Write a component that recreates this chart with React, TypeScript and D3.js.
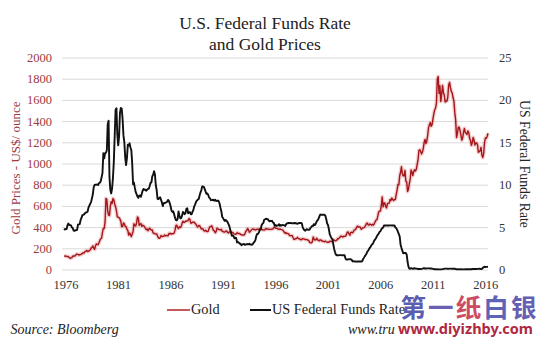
import React from "react";
import * as d3 from "d3";

const startYear = 1976;
// Monthly gold price, US$/ounce, Jan 1976 – Jun 2016
const goldPrices: number[] = [
  131, 131, 132, 128, 128, 125, 118, 110, 114, 117, 130, 133,
  132, 136, 148, 149, 147, 141, 144, 145, 149, 158, 162, 161,
  173, 178, 184, 175, 177, 183, 189, 206, 212, 227, 206, 194,
  227, 246, 242, 239, 257, 279, 295, 301, 355, 392, 392, 456,
  675, 665, 554, 517, 514, 600, 644, 627, 674, 661, 623, 595,
  557, 500, 499, 495, 480, 461, 409, 410, 444, 437, 413, 410,
  384, 374, 330, 350, 334, 315, 339, 364, 436, 422, 415, 444,
  500, 491, 421, 432, 438, 413, 423, 416, 412, 393, 382, 388,
  370, 386, 394, 381, 377, 378, 348, 348, 341, 340, 341, 320,
  303, 299, 304, 325, 316, 317, 317, 330, 323, 326, 325, 322,
  345, 339, 346, 340, 342, 343, 348, 376, 418, 423, 398, 391,
  408, 401, 409, 438, 460, 450, 450, 461, 460, 465, 467, 486,
  477, 442, 443, 452, 451, 452, 437, 432, 413, 406, 420, 419,
  404, 388, 391, 385, 371, 367, 375, 365, 362, 367, 394, 409,
  410, 417, 393, 374, 369, 352, 362, 395, 389, 381, 381, 378,
  384, 364, 363, 358, 357, 367, 368, 356, 349, 359, 360, 361,
  354, 354, 345, 338, 337, 341, 353, 343, 345, 344, 335, 334,
  329, 330, 330, 342, 367, 372, 392, 379, 355, 364, 374, 383,
  387, 382, 384, 378, 381, 386, 385, 381, 391, 389, 384, 379,
  379, 377, 382, 391, 385, 387, 386, 383, 383, 383, 386, 387,
  400, 405, 396, 393, 392, 385, 383, 387, 383, 381, 378, 369,
  355, 347, 352, 344, 344, 341, 324, 324, 323, 325, 306, 289,
  289, 297, 296, 308, 299, 292, 293, 284, 289, 296, 294, 291,
  287, 288, 286, 282, 277, 261, 256, 257, 265, 311, 293, 283,
  284, 300, 286, 280, 275, 285, 282, 274, 273, 270, 266, 272,
  266, 262, 263, 261, 272, 270, 268, 273, 283, 283, 276, 276,
  282, 296, 294, 303, 314, 321, 314, 310, 319, 317, 319, 333,
  357, 359, 341, 328, 355, 356, 351, 360, 379, 379, 389, 407,
  414, 405, 406, 404, 384, 392, 398, 400, 406, 420, 439, 442,
  424, 423, 434, 429, 422, 431, 424, 438, 457, 470, 476, 510,
  549, 555, 557, 610, 690, 596, 633, 632, 598, 585, 627, 629,
  631, 665, 655, 679, 667, 655, 665, 665, 712, 754, 806, 803,
  889, 922, 975, 909, 888, 889, 940, 839, 830, 740, 760, 816,
  858, 943, 924, 890, 928, 946, 934, 949, 996, 1043, 1127, 1134,
  1118, 1095, 1113, 1148, 1205, 1232, 1193, 1215, 1271, 1343, 1370, 1391,
  1356, 1372, 1424, 1473, 1510, 1529, 1573, 1800, 1825, 1665, 1739, 1590,
  1656, 1742, 1673, 1650, 1585, 1596, 1594, 1630, 1745, 1770, 1722, 1684,
  1671, 1627, 1593, 1487, 1414, 1250, 1286, 1347, 1348, 1316, 1275, 1225,
  1244, 1300, 1336, 1299, 1287, 1279, 1311, 1296, 1239, 1222, 1176, 1201,
  1251, 1227, 1179, 1198, 1199, 1181, 1110, 1117, 1125, 1157, 1086, 1060,
  1097, 1200, 1246, 1242, 1260, 1290,
];

// Monthly effective US Federal Funds Rate, %, Jan 1976 – Jun 2016
const fedFundsRate: number[] = [
  4.87, 4.77, 4.84, 4.82, 5.29, 5.48, 5.31, 5.29, 5.25, 5.02, 4.95, 4.65,
  4.61, 4.68, 4.69, 4.73, 5.35, 5.39, 5.42, 5.9, 6.14, 6.47, 6.51, 6.56,
  6.7, 6.78, 6.79, 6.89, 7.36, 7.6, 7.81, 8.04, 8.45, 8.96, 9.76, 10.03,
  10.07, 10.06, 10.09, 10.01, 10.24, 10.29, 10.47, 10.94, 11.43, 13.77, 13.18, 13.78,
  13.82, 14.13, 17.19, 17.61, 10.98, 9.47, 9.03, 9.61, 10.87, 12.81, 15.85, 18.9,
  19.08, 15.93, 14.7, 15.72, 18.52, 19.1, 19.04, 17.82, 15.87, 15.08, 13.31, 12.37,
  13.22, 14.78, 14.68, 14.94, 14.45, 14.15, 12.59, 10.12, 10.31, 9.71, 9.2, 8.95,
  8.68, 8.51, 8.77, 8.8, 8.63, 8.98, 9.37, 9.56, 9.45, 9.48, 9.34, 9.47,
  9.56, 9.59, 9.91, 10.29, 10.32, 11.06, 11.23, 11.64, 11.3, 9.99, 9.43, 8.38,
  8.35, 8.5, 8.58, 8.27, 7.97, 7.53, 7.88, 7.9, 7.92, 7.99, 8.05, 8.27,
  8.14, 7.86, 7.48, 6.99, 6.85, 6.92, 6.56, 6.17, 5.89, 5.85, 6.04, 6.91,
  6.43, 6.1, 6.13, 6.37, 6.85, 6.73, 6.58, 6.73, 7.22, 7.29, 6.69, 6.77,
  6.83, 6.58, 6.58, 6.87, 7.09, 7.51, 7.75, 8.01, 8.19, 8.3, 8.35, 8.76,
  9.12, 9.36, 9.85, 9.84, 9.81, 9.53, 9.24, 8.99, 9.02, 8.84, 8.55, 8.45,
  8.23, 8.24, 8.28, 8.26, 8.18, 8.29, 8.15, 8.13, 8.2, 8.11, 7.81, 7.31,
  6.91, 6.25, 6.12, 5.91, 5.78, 5.9, 5.82, 5.66, 5.45, 5.21, 4.81, 4.43,
  4.03, 4.06, 3.98, 3.73, 3.82, 3.76, 3.25, 3.3, 3.22, 3.1, 3.09, 2.92,
  3.02, 3.03, 3.07, 2.96, 3.0, 3.04, 3.06, 3.03, 3.09, 2.99, 3.02, 2.96,
  3.05, 3.25, 3.34, 3.56, 4.01, 4.25, 4.26, 4.47, 4.73, 4.76, 5.29, 5.45,
  5.53, 5.92, 5.98, 6.05, 6.01, 6.0, 5.85, 5.74, 5.8, 5.76, 5.8, 5.6,
  5.56, 5.22, 5.31, 5.22, 5.24, 5.27, 5.4, 5.22, 5.3, 5.24, 5.31, 5.29,
  5.25, 5.19, 5.39, 5.51, 5.5, 5.56, 5.52, 5.54, 5.54, 5.5, 5.52, 5.5,
  5.56, 5.51, 5.49, 5.45, 5.49, 5.56, 5.54, 5.55, 5.51, 5.07, 4.83, 4.68,
  4.63, 4.76, 4.81, 4.74, 4.74, 4.76, 4.99, 5.07, 5.22, 5.2, 5.42, 5.3,
  5.45, 5.73, 5.85, 6.02, 6.27, 6.53, 6.54, 6.5, 6.52, 6.51, 6.51, 6.4,
  5.98, 5.49, 5.31, 4.8, 4.21, 3.97, 3.77, 3.65, 3.07, 2.49, 2.09, 1.82,
  1.73, 1.74, 1.73, 1.75, 1.75, 1.75, 1.73, 1.74, 1.75, 1.75, 1.34, 1.24,
  1.24, 1.26, 1.25, 1.26, 1.26, 1.22, 1.01, 1.03, 1.01, 1.01, 1.0, 0.98,
  1.0, 1.01, 1.0, 1.0, 1.0, 1.03, 1.26, 1.43, 1.61, 1.76, 1.93, 2.16,
  2.28, 2.5, 2.63, 2.79, 3.0, 3.04, 3.26, 3.5, 3.62, 3.78, 4.0, 4.16,
  4.29, 4.49, 4.59, 4.79, 4.94, 4.99, 5.24, 5.25, 5.25, 5.25, 5.25, 5.24,
  5.25, 5.26, 5.26, 5.25, 5.25, 5.25, 5.26, 5.02, 4.94, 4.76, 4.49, 4.24,
  3.94, 2.98, 2.61, 2.28, 1.98, 2.0, 2.01, 2.0, 1.81, 0.97, 0.39, 0.16,
  0.15, 0.22, 0.18, 0.15, 0.18, 0.21, 0.16, 0.16, 0.15, 0.12, 0.12, 0.12,
  0.11, 0.13, 0.16, 0.2, 0.2, 0.18, 0.18, 0.19, 0.19, 0.19, 0.19, 0.18,
  0.17, 0.16, 0.14, 0.1, 0.09, 0.09, 0.07, 0.1, 0.08, 0.07, 0.08, 0.07,
  0.08, 0.1, 0.13, 0.14, 0.16, 0.16, 0.16, 0.13, 0.14, 0.16, 0.16, 0.16,
  0.14, 0.15, 0.14, 0.15, 0.11, 0.09, 0.09, 0.08, 0.08, 0.09, 0.08, 0.09,
  0.07, 0.07, 0.08, 0.09, 0.09, 0.1, 0.09, 0.09, 0.09, 0.09, 0.09, 0.12,
  0.11, 0.11, 0.11, 0.12, 0.12, 0.13, 0.13, 0.14, 0.14, 0.12, 0.12, 0.24,
  0.34, 0.38, 0.36, 0.37, 0.37, 0.38,
];

const yearLabels: number[] = [1976, 1981, 1986, 1991, 1996, 2001, 2006, 2011, 2016];
const goldTicks: number[] = [0, 200, 400, 600, 800, 1000, 1200, 1400, 1600, 1800, 2000];
const rateTicks: number[] = [0, 5, 10, 15, 20, 25];
const watermarkChars: string[] = ["第", "一", "纸", "白", "银"];
const watermarkColors: string[] = ["#5a5db0", "#6a5fb2", "#cc4d63", "#5f63b6", "#6560b3"];

const SERIF = "Georgia, 'Liberation Serif', serif";
const GOLD_COLOR = "#a3161c";
const AXIS_RED = "#9c3a3f";

export default function App() {
  const W = 550;
  const H = 344;
  const x0 = 64;
  const x1 = 488;
  const yTop = 58;
  const yBottom = 270;

  const endT = startYear + (goldPrices.length - 1) / 12;
  const x = d3.scaleLinear().domain([startYear, endT]).range([x0, x1]);
  const yGold = d3.scaleLinear().domain([0, 2000]).range([yBottom, yTop]);
  const yRate = d3.scaleLinear().domain([0, 25]).range([yBottom, yTop]);

  const goldPath =
    d3
      .line<number>()
      .x((_, i) => x(startYear + i / 12))
      .y((d) => yGold(d))(goldPrices) || "";
  const ratePath =
    d3
      .line<number>()
      .x((_, i) => x(startYear + i / 12))
      .y((d) => yRate(d))(fedFundsRate) || "";

  const wmX = d3.scaleLinear().domain([0, watermarkChars.length]).range([400, 538]);

  return (
    <svg
      width={W}
      height={H}
      style={{ position: "absolute", left: 0, top: 0, background: "#fff" }}
      fontFamily={SERIF}
    >
      <rect width={W} height={H} fill="#fff" />
      {/* Title */}
      <text x={265} y={29} textAnchor="middle" fontSize={17.5} fill="#222">
        U.S. Federal Funds Rate
      </text>
      <text x={265} y={50} textAnchor="middle" fontSize={17.5} fill="#222">
        and Gold Prices
      </text>

      {/* Gridlines */}
      {goldTicks.map((t) => (
        <line
          key={"g" + t}
          x1={62}
          x2={488}
          y1={yGold(t)}
          y2={yGold(t)}
          stroke="#d9d9d9"
          strokeWidth={1}
        />
      ))}

      {/* Left ticks */}
      {goldTicks.map((t) => (
        <text
          key={"lt" + t}
          x={52}
          y={yGold(t) + 4}
          textAnchor="end"
          fontSize={12.5}
          fill={AXIS_RED}
        >
          {t}
        </text>
      ))}

      {/* Right ticks */}
      {rateTicks.map((t) => (
        <text key={"rt" + t} x={499} y={yRate(t) + 4} fontSize={12.5} fill="#333">
          {t}
        </text>
      ))}

      {/* X labels */}
      {yearLabels.map((yr) => (
        <text
          key={"x" + yr}
          x={x(yr + 0.2)}
          y={289}
          textAnchor="middle"
          fontSize={12.5}
          fill="#333"
        >
          {yr}
        </text>
      ))}

      {/* Axis titles */}
      <text
        transform={`translate(20,168) rotate(-90)`}
        textAnchor="middle"
        fontSize={13}
        fill={AXIS_RED}
      >
        Gold Prices - US$/ ounce
      </text>
      <text
        transform={`translate(520,164) rotate(90)`}
        textAnchor="middle"
        fontSize={13.75}
        fill="#222"
      >
        US Federal Funds Rate
      </text>

      {/* Series */}
      <path d={goldPath} fill="none" stroke="#e07878" strokeOpacity={0.35} strokeWidth={4} strokeLinejoin="round" />
      <path d={goldPath} fill="none" stroke={GOLD_COLOR} strokeWidth={1.4} strokeLinejoin="round" />
      <path d={ratePath} fill="none" stroke="#111" strokeWidth={1.9} strokeLinejoin="round" />

      {/* Legend */}
      <line x1={167} x2={190} y1={310} y2={310} stroke="#c65a5a" strokeWidth={2} />
      <text x={191} y={314} fontSize={14.3} fill="#222">
        Gold
      </text>
      <line x1={250} x2={271} y1={310} y2={310} stroke="#111" strokeWidth={2} />
      <text x={272} y={314} fontSize={14.3} fill="#222">
        US Federal Funds Rate
      </text>

      {/* Source */}
      <text x={10.5} y={334} fontSize={14} fontStyle="italic" fill="#222">
        Source: Bloomberg
      </text>
      <text x={348} y={334} fontSize={14} fontStyle="italic" fill="#222">
        www.tru
      </text>

      {/* Watermark */}
      {watermarkChars.map((c, i) => (
        <text
          key={"wm" + i}
          x={wmX(i) + 0.5}
          y={317}
          fontFamily="'Noto Sans CJK SC', sans-serif"
          fontWeight={700}
          fontSize={25.5}
          fill={watermarkColors[i]}
        >
          {c}
        </text>
      ))}
      <text
        x={398}
        y={334}
        fontFamily="'Noto Sans', sans-serif"
        fontWeight={700}
        fontSize={14}
        fill="#b0283f"
        textLength={135}
        lengthAdjust="spacingAndGlyphs"
      >
        www.diyizhby.com
      </text>
    </svg>
  );
}
